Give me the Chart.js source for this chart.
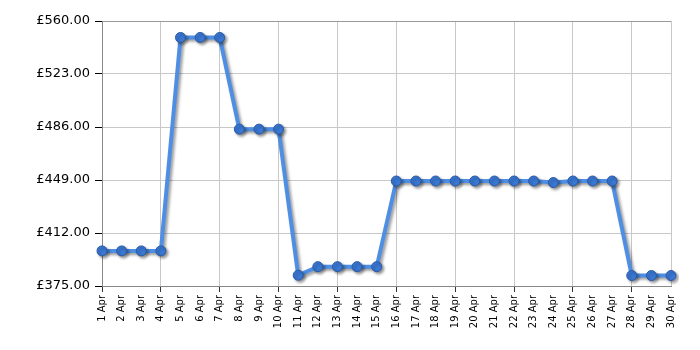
<!DOCTYPE html>
<html>
<head>
<meta charset="utf-8">
<script src="https://cdn.jsdelivr.net/npm/chart.js@4"></script>
<style>
  html, body { margin: 0; padding: 0; background: #fff; }
  #wrap { width: 700px; height: 350px; }
</style>
</head>
<body>
<div id="wrap"><canvas id="priceChart" width="700" height="350"></canvas></div>
<script>
const days = ['1 Apr', '2 Apr', '3 Apr', '4 Apr', '5 Apr', '6 Apr', '7 Apr', '8 Apr', '9 Apr', '10 Apr',
  '11 Apr', '12 Apr', '13 Apr', '14 Apr', '15 Apr', '16 Apr', '17 Apr', '18 Apr', '19 Apr', '20 Apr',
  '21 Apr', '22 Apr', '23 Apr', '24 Apr', '25 Apr', '26 Apr', '27 Apr', '28 Apr', '29 Apr', '30 Apr'];
const prices = [399.5, 399.5, 399.5, 399.5, 548.5, 548.5, 548.5, 484.5, 484.5, 484.5,
  382.5, 388.5, 388.5, 388.5, 388.5, 448.3, 448.3, 448.3, 448.3, 448.3,
  448.3, 448.3, 448.3, 447.2, 448.3, 448.3, 448.3, 382.3, 382.3, 382.3];
const yMin = 375, yMax = 560, yStep = 37;

// soft grey drop shadow under the line, like the original
const shadowPlugin = {
  id: 'shadow',
  beforeDatasetsDraw(chart) {
    const c = chart.ctx;
    c.save();
    c.shadowColor = 'rgba(0,0,0,0.4)';
    c.shadowBlur = 3;
    c.shadowOffsetX = 2;
    c.shadowOffsetY = 2;
  },
  afterDatasetsDraw(chart) {
    chart.ctx.restore();
  }
};

const ctx = document.getElementById('priceChart').getContext('2d');
new Chart(ctx, {
  type: 'line',
  data: {
    labels: days,
    datasets: [{
      data: prices,
      borderColor: '#4f8fe3',
      borderWidth: 4,
      pointRadius: 5,
      pointHoverRadius: 5,
      pointBackgroundColor: '#3a78d4',
      pointBorderColor: '#2a5aa6',
      pointBorderWidth: 1,
      tension: 0,
      fill: false,
      clip: 8
    }]
  },
  options: {
    responsive: false,
    animation: false,
    events: [],
    layout: { padding: { top: 21, right: 29, left: 0, bottom: 0 } },
    plugins: { legend: { display: false }, tooltip: { enabled: false } },
    scales: {
      x: {
        offset: false,
        afterFit(s) { s.height = 64; },
        grid: {
          color: c => (c.index % 3 === 0 || c.index === 29) ? '#c8c8c8' : 'rgba(0,0,0,0)',
          tickColor: c => (c.index % 3 === 0) ? '#333' : 'rgba(0,0,0,0)',
          tickLength: 6,
          lineWidth: 1
        },
        border: { color: '#888', width: 1 },
        ticks: {
          autoSkip: false,
          minRotation: 90,
          maxRotation: 90,
          padding: 3,
          color: '#000',
          font: { family: 'DejaVu Sans', size: 10 }
        }
      },
      y: {
        min: yMin,
        max: yMax,
        afterFit(s) { s.width = 102; },
        afterBuildTicks(s) {
          const t = [];
          for (let v = yMin; v <= yMax; v += yStep) t.push({ value: v });
          s.ticks = t;
        },
        grid: {
          color: c => c.tick && c.tick.value === yMax ? '#999' : '#c8c8c8',
          tickColor: '#000',
          tickLength: 7,
          lineWidth: 1
        },
        border: { color: '#888', width: 1 },
        ticks: {
          padding: 5,
          color: '#000',
          font: { family: 'DejaVu Sans', size: 13 },
          callback: v => '£' + Number(v).toFixed(2)
        }
      }
    }
  },
  plugins: [shadowPlugin]
});
</script>
</body>
</html>
